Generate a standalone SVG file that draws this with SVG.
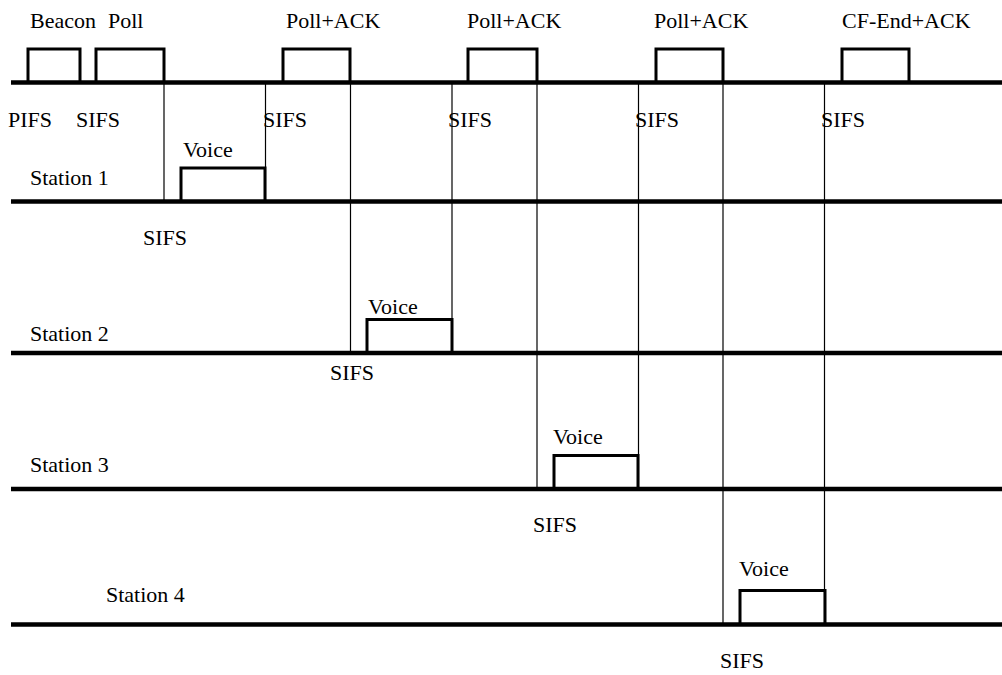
<svg xmlns="http://www.w3.org/2000/svg" width="1002" height="675" viewBox="0 0 1002 675" font-family="Liberation Serif, DejaVu Serif, serif">
<style>
text{font-size:22px;fill:#000}
.tl{stroke:#000;stroke-width:4.5;fill:none}
.fr{stroke:#000;stroke-width:3;fill:none}
.sep{stroke:#000;stroke-width:1.2;fill:none}
</style>
<rect width="1002" height="675" fill="#fff"/>
<g id="timelines">
<line class="tl" x1="11" y1="82.5" x2="1002" y2="82.5"/>
<line class="tl" x1="11" y1="201.5" x2="1002" y2="201.5"/>
<line class="tl" x1="11" y1="353" x2="1002" y2="353"/>
<line class="tl" x1="11" y1="489" x2="1002" y2="489"/>
<line class="tl" x1="11" y1="624.5" x2="1002" y2="624.5"/>
</g>
<g id="connectors">
<line class="sep" x1="164" y1="82" x2="164" y2="201"/>
<line class="sep" x1="265.5" y1="82" x2="265.5" y2="201"/>
<line class="sep" x1="350.5" y1="82" x2="350.5" y2="353"/>
<line class="sep" x1="452" y1="82" x2="452" y2="353"/>
<line class="sep" x1="537" y1="82" x2="537" y2="489"/>
<line class="sep" x1="638.5" y1="82" x2="638.5" y2="489"/>
<line class="sep" x1="723" y1="82" x2="723" y2="625"/>
<line class="sep" x1="824.5" y1="82" x2="824.5" y2="625"/>
</g>
<g id="ap">
<text x="30" y="28">Beacon</text>
<text x="108" y="28">Poll</text>
<text x="286" y="28">Poll+ACK</text>
<text x="467" y="28">Poll+ACK</text>
<text x="654" y="28">Poll+ACK</text>
<text x="842" y="28">CF-End+ACK</text>
<path class="fr" d="M28,82 V49 H80 V82"/>
<path class="fr" d="M96,82 V49 H164 V82"/>
<path class="fr" d="M283,82 V49 H350 V82"/>
<path class="fr" d="M468,82 V49 H537 V82"/>
<path class="fr" d="M656,82 V49 H723 V82"/>
<path class="fr" d="M842,82 V49 H909 V82"/>
<text x="8" y="127">PIFS</text>
<text x="76" y="127">SIFS</text>
<text x="263" y="127">SIFS</text>
<text x="448" y="127">SIFS</text>
<text x="635" y="127">SIFS</text>
<text x="821" y="127">SIFS</text>
</g>
<g id="station1">
<text x="30" y="185">Station 1</text>
<text x="183" y="157">Voice</text>
<path class="fr" d="M181,201 V168 H265 V201"/>
<text x="143" y="245">SIFS</text>
</g>
<g id="station2">
<text x="30" y="341">Station 2</text>
<text x="368" y="314">Voice</text>
<path class="fr" d="M367,353 V319.5 H452 V353"/>
<text x="330" y="380">SIFS</text>
</g>
<g id="station3">
<text x="30" y="472">Station 3</text>
<text x="553" y="444">Voice</text>
<path class="fr" d="M554,489 V455.5 H638 V489"/>
<text x="533" y="532">SIFS</text>
</g>
<g id="station4">
<text x="106" y="602">Station 4</text>
<text x="739" y="576">Voice</text>
<path class="fr" d="M740,625 V590.5 H825 V625"/>
<text x="720" y="668">SIFS</text>
</g>
</svg>
